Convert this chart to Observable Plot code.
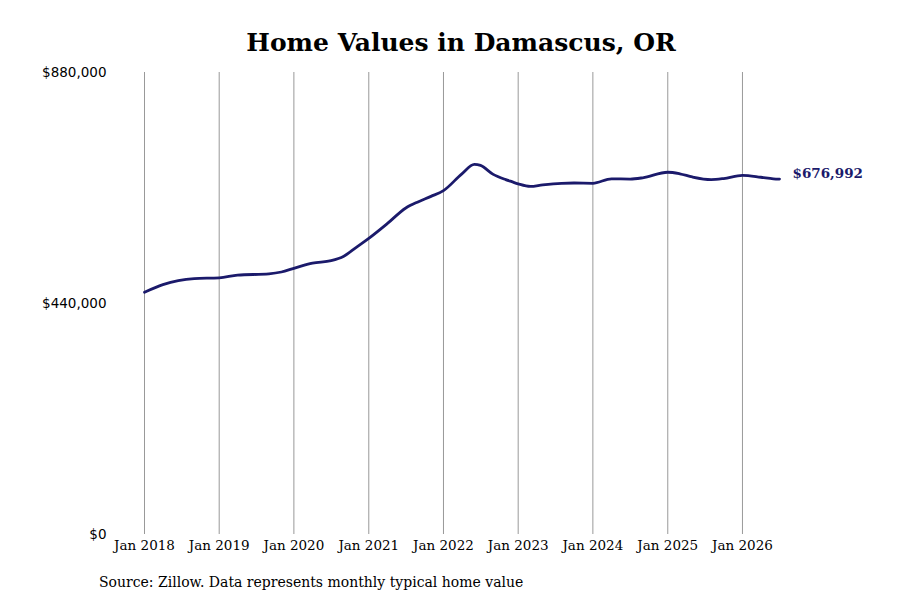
<!DOCTYPE html>
<html>
<head>
<meta charset="utf-8">
<script src="https://cdn.jsdelivr.net/npm/d3@7"></script>
<script src="https://cdn.jsdelivr.net/npm/@observablehq/plot@0.6"></script>
<style>
  html, body { margin: 0; padding: 0; background: #fff; }
  #wrap { position: relative; width: 900px; height: 600px; overflow: hidden; }
  #title { position: absolute; left: 0; top: 27px; width: 922px; text-align: center;
    font-family: "DejaVu Serif", serif; font-weight: bold; font-size: 25px; color: #000; line-height: 32px; }
  #chart { position: absolute; left: 0; top: 60px; }
  #caption { position: absolute; left: 99px; top: 572px;
    font-family: "DejaVu Serif", serif; font-size: 14px; color: #000; line-height: 20px; }
</style>
</head>
<body>
<div id="wrap">
  <div id="title">Home Values in Damascus, OR</div>
  <div id="chart"></div>
  <div id="caption">Source: Zillow. Data represents monthly typical home value</div>
</div>
<script>
const dates = [
  "2018-01","2018-04","2018-09","2019-01","2019-04","2019-09","2019-11",
  "2020-01","2020-04","2020-07","2020-09","2020-11",
  "2021-01","2021-04","2021-07","2021-09","2021-11",
  "2022-01","2022-04","2022-06","2022-07","2022-09","2022-11","2022-12",
  "2023-01","2023-03","2023-05","2023-08","2023-10",
  "2024-01","2024-04","2024-07","2024-09",
  "2025-01","2025-03","2025-05","2025-08","2025-10",
  "2026-01","2026-04","2026-06","2026-07"
];
const values = [
  461500,476000,487500,489000,494000,496500,500000,
  507000,517000,521500,530000,547000,
  564000,592000,622000,634000,644000,
  655000,687000,705000,703000,686000,676000,672000,
  668000,663000,666000,669000,669500,
  669000,677500,677000,679500,
  690000,687000,681000,676000,678000,
  684000,680500,677500,676992
];
const yTicks = [0, 440000, 880000];
const xTickYears = [2018,2019,2020,2021,2022,2023,2024,2025,2026];

const parse = d3.utcParse("%Y-%m");
const data = dates.map((d, i) => ({date: parse(d), value: values[i]}));
const xTicks = xTickYears.map(y => new Date(Date.UTC(y, 0, 1)));
const last = data[data.length - 1];
const navy = "#1b1a6b";

const chart = Plot.plot({
  width: 900,
  height: 510,
  marginTop: 12,
  marginBottom: 36,
  marginLeft: 144,
  marginRight: 121,
  style: {fontFamily: "DejaVu Serif, serif", fontSize: "13px", background: "#fff", color: "#000"},
  x: {type: "utc", domain: [parse("2018-01"), parse("2026-07")]},
  y: {domain: [0, 880000]},
  marks: [
    Plot.ruleX(xTicks, {y1: 0, y2: 880000, stroke: "#999", strokeWidth: 1}),
    Plot.axisX({ticks: xTicks, tickSize: 0, tickPadding: 6, tickFormat: d3.utcFormat("Jan %Y"),
      fontSize: 13.5, fill: "#000", label: null}),
    Plot.axisY({ticks: yTicks, tickSize: 0, tickPadding: 38, tickFormat: d => "$" + d3.format(",")(d),
      fontFamily: "DejaVu Sans, sans-serif", fontSize: 13.5, fill: "#000", label: null}),
    Plot.line(data, {x: "date", y: "value", stroke: navy, strokeWidth: 2.8, curve: "monotone-x"}),
    Plot.text([last], {x: "date", y: "value", text: d => "$" + d3.format(",")(d.value), dx: 13, dy: -5,
      textAnchor: "start", fill: navy, fontWeight: "bold", fontSize: 13.5, fontFamily: "DejaVu Serif, serif"})
  ]
});
document.getElementById("chart").appendChild(chart);
</script>
</body>
</html>
